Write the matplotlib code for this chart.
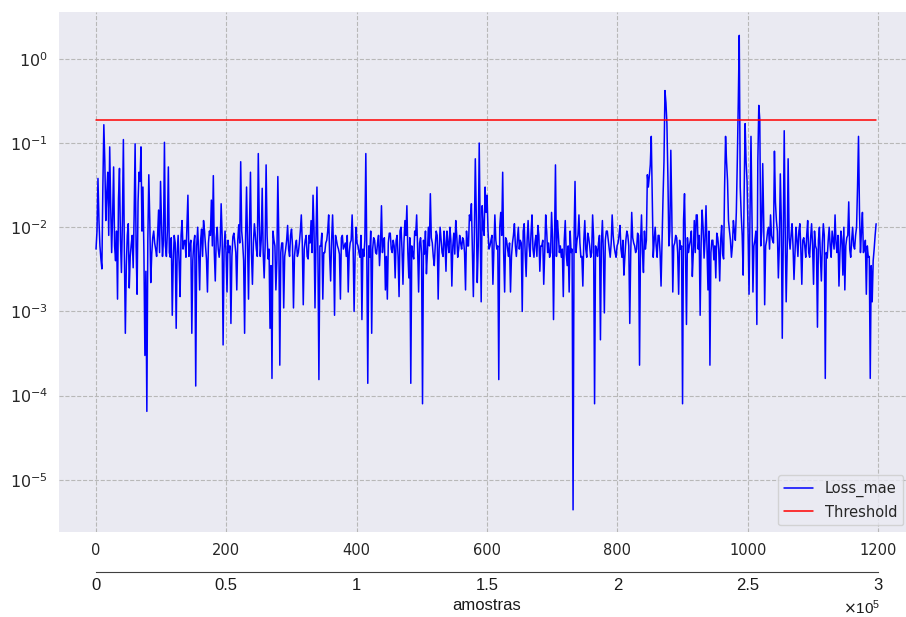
import numpy as np
import matplotlib
matplotlib.use("Agg")
import matplotlib.pyplot as plt
import seaborn as sns
from matplotlib.ticker import FuncFormatter, FixedLocator

# Reconstruction loss (MAE) per window, in units of 1e-3.
# loss_main_e3 holds every other window; loss_between_e3 the windows in between.
loss_main_e3 = [
    # 0 - 198
    5.5, 38, 6, 3.2, 165, 12, 45, 90, 5, 52, 4, 1.4, 50, 2.9, 110, 0.55, 8, 1.9, 6.2, 3.3,
    98, 1.6, 45, 90, 30, 0.3, 0.065, 42, 2.2, 7.5, 6.5, 4.5, 16, 35, 4.5, 102, 4.5, 52, 4.4, 0.9,
    8, 0.63, 8, 1.5, 12, 6.8, 4.4, 24, 6, 0.55, 6.5, 0.13, 10, 1.8, 9.5, 12, 6, 1.7, 9, 21,
    41, 2.3, 10, 4.4, 19, 0.4, 9,
    # 201 - 399
    1.7, 5, 0.72, 7.7, 6.5, 1.8, 10.7, 60, 6.5, 0.55, 30, 1.4, 45, 2.1, 11, 5.5, 75, 4.5, 29, 2.5,
    55, 4.2, 0.63, 0.16, 7, 1.8, 40, 0.23, 6.5, 1.1, 5.5, 10.5, 4.5, 9.5, 1.1, 6, 4.5, 6.5, 14, 1.2,
    7, 4.5, 8, 12, 24, 1.1, 30, 0.155, 6, 1.4, 5, 7, 14, 2.3, 14, 0.9, 7, 5.5, 1.4, 8,
    6, 4.5, 1.7, 6.5, 14, 1.0, 10,
    # 402 - 597
    6, 4.4, 0.8, 4.5, 75, 0.14, 4.4, 0.55, 7.5, 5, 6.5, 3.5, 18, 7, 1.8, 1.4, 8.5, 5.5, 7, 2.5,
    8, 1.5, 10, 2.1, 12, 18, 2.5, 0.14, 4.8, 9, 14, 1.7, 7.5, 0.08, 4.8, 2.8, 10, 25, 6.5, 3.5,
    9, 1.4, 10, 5, 9, 3, 6.5, 10, 2.0, 8.5, 12, 4.4, 8, 5.5, 7, 1.8, 6, 14, 19, 1.5,
    65, 2.2, 100, 1.3, 10, 30,
    # 600 - 798
    24, 5.5, 7, 2.1, 14, 5.5, 0.155, 15, 45, 1.7, 7, 4.5, 1.7, 6.5, 11, 4.5, 10, 7, 1.0, 11,
    2.6, 12, 4.5, 14, 4.4, 8, 10.5, 3, 6, 2.1, 14, 5, 4.4, 15, 0.8, 55, 12, 5, 4.4, 1.5,
    12, 3.5, 1.7, 5, 0.0044, 35, 7, 14, 4.4, 2.0, 12, 4.4, 7.5, 4.4, 14, 0.08, 5.5, 6.5, 0.46, 12,
    0.96, 9, 7, 4.4, 14, 6, 4.4,
    # 801 - 1005
    6.5, 10.5, 4.4, 2.7, 7, 8, 0.72, 15, 6.5, 5, 8.5, 0.23, 14, 2.9, 5.5, 42, 40, 120, 4.4, 10,
    4.4, 8, 2.0, 22, 420, 170, 6, 82, 1.7, 6.5, 7.5, 1.6, 5.5, 0.08, 25, 0.7, 5, 7, 2.6, 12,
    14, 5.5, 0.9, 16, 4.3, 18, 1.8, 0.23, 7, 4.1, 2.5, 7.5, 2.3, 10.5, 4.2, 120, 36, 9, 4.4, 12,
    7, 60, 1900, 14, 2.7, 170, 35, 1.6, 120,
    # 1008 - 1197
    1.7, 7, 0.7, 280, 6, 57, 1.2, 7, 10, 14, 7, 80, 12, 2.5, 43, 0.48, 140, 1.3, 65, 5.5,
    11, 2.4, 10, 4.5, 11, 2.1, 7.5, 4.4, 12, 4.4, 11, 2.1, 6, 0.65, 10, 2.3, 11, 0.16, 4.3, 10,
    4.4, 7, 14, 5, 2.0, 9, 2.7, 1.8, 7.5, 20, 4.4, 10, 5.5, 10, 120, 5, 15, 5.5, 1.6, 4.4,
    0.16, 1.3, 5.5, 11,
]
loss_between_e3 = [
    # 1.5 - 196.5
    9, 12, 4.2, 30, 60, 25, 8, 18, 14, 6, 9, 22, 7, 12, 5, 3.5, 11, 4.5, 8, 14,
    6, 20, 35, 9, 5, 3, 7, 12, 4.8, 9, 5.5, 8, 5, 11, 7, 6, 9, 5, 7.5, 4,
    6.5, 5, 3.8, 8, 5.5, 7, 10, 4.5, 7, 4, 8, 6, 5, 7, 4.5, 9, 4.2, 6.5, 8, 6,
    5, 7.5, 5.5, 6, 8, 5.5,
    # 199.5 - 397.5
    5, 7, 6, 4.5, 8.5, 5, 7, 6.5, 9, 4, 7.5, 6, 10, 5, 6.5, 8, 4.5, 12, 7, 5,
    6, 8, 5.5, 3.5, 9, 6, 4, 7.5, 5, 6.5, 4.5, 7, 5.5, 8, 6, 4.5, 7, 5, 9, 6.5,
    5.5, 8, 4.2, 6.5, 5, 9.5, 7, 4.8, 6, 8.5, 5, 6.5, 9, 4.5, 7, 5.5, 8, 6, 4.8, 7.5,
    5.5, 6.5, 8, 5, 7, 6, 4.5,
    # 400.5 - 595.5
    6.5, 5, 8, 5.5, 7, 4.5, 6, 9, 5.5, 7, 4.8, 8, 6, 5, 7.5, 4.5, 6.5, 8.5, 5, 6,
    7, 4.5, 9, 5.5, 6.5, 8, 5, 7.5, 6, 4.2, 8, 5.5, 6.5, 4.8, 7, 9, 5, 6, 7.5, 4.5,
    6, 8, 5.5, 7, 4.5, 6.5, 9, 5, 7, 6, 4.8, 8, 5.5, 6.5, 7.5, 5, 9, 6, 12, 5.5,
    8, 14, 6, 9, 18, 8,
    # 598.5 - 796.5
    15, 9, 6, 8, 5.5, 7, 6, 10, 8, 5, 7.5, 5.5, 6.5, 4.5, 8, 6, 7, 5.5, 6.5, 9,
    5, 7, 6, 8.5, 5.5, 6.5, 4.5, 8, 6, 7, 5, 9, 6.5, 5, 7.5, 6, 4.5, 8, 6, 5.5,
    7, 4.8, 6, 9, 5.5, 7, 5, 8, 6.5, 4.5, 7, 5.5, 8.5, 6, 5, 7.5, 6, 4.5, 8, 6.5,
    5, 7, 9, 5.5, 6.5, 8, 5,
    # 799.5 - 1003.5
    6, 8, 5.5, 7, 4.5, 9, 6, 5, 7.5, 6, 5.5, 8, 6.5, 5, 9, 7, 30, 55, 25, 7,
    6, 8, 5, 7, 60, 300, 40, 9, 15, 6, 8, 5, 7, 6, 12, 5.5, 7.5, 6, 9, 5,
    5, 14, 8, 6.5, 10, 7, 5.5, 9, 5, 7, 6, 8.5, 5.5, 7, 4.8, 30, 60, 12, 7, 6,
    9, 15, 300, 30, 8, 25, 60, 9, 15,
    # 1006.5 - 1195.5
    15, 6, 9, 60, 190, 9, 12, 6, 9, 5.5, 8, 6.5, 20, 9, 6, 12, 7, 9, 5, 7.5,
    8, 6, 5, 7, 9, 5.5, 7, 6, 8, 5, 7.5, 6, 9, 5.5, 7, 4.5, 6.5, 8, 5, 7,
    6, 9, 5.5, 6.5, 8, 5, 7, 10, 6, 8, 5.5, 7, 6, 8, 30, 15, 9, 5, 7, 6,
    4.5, 3.5, 4, 8,
]
window_step = 1.5         # spacing between consecutive windows on the x axis
threshold = 0.19          # anomaly threshold on the MAE
samples_per_window = 250  # raw samples per window unit (bottom axis)

x_ticks = [0, 200, 400, 600, 800, 1000, 1200]
sample_ticks = [0, 0.5e5, 1e5, 1.5e5, 2e5, 2.5e5, 3e5]
legend_labels = ["Loss_mae", "Threshold"]
bottom_label = "amostras"

loss_mae = np.empty(len(loss_main_e3) + len(loss_between_e3))
loss_mae[0::2] = loss_main_e3
loss_mae[1::2] = loss_between_e3
loss_mae *= 1e-3
x = np.arange(len(loss_mae)) * window_step

sns.set_style("darkgrid", {"grid.linestyle": "--", "grid.color": "0.72",
                           "axes.facecolor": "#EAEAF2"})
plt.rcParams["font.family"] = ["DejaVu Sans"]

W, H = 906, 617
fig = plt.figure(figsize=(W / 100, H / 100), dpi=100)

# main axes (pixel box: left 59, right 910, top 12, bottom 532)
ax = fig.add_axes([59 / W, 1 - 532 / H, (910 - 59) / W, (532 - 12) / H])
ax.plot(x, loss_mae, color="blue", lw=1.1, label=legend_labels[0])
ax.plot(x, np.full_like(x, threshold), color="red", lw=1.1, label=legend_labels[1])
ax.set_yscale("log")
ax.set_ylim(2.4e-6, 3.6)
ax.set_xlim(-56.8, 1249)
ax.set_xticks(x_ticks)
ax.yaxis.set_major_locator(FixedLocator([1e-5, 1e-4, 1e-3, 1e-2, 1e-1, 1e0]))
ax.yaxis.set_minor_locator(FixedLocator([]))
ax.grid(True, which="major", linestyle="--", color="0.72", linewidth=0.8)
ax.tick_params(axis="y", labelsize=11.5, colors="0.15", length=0, pad=8)
ax.tick_params(axis="x", labelsize=10.5, labelcolor="0.15", length=3, width=0.8,
               color="0.3", direction="out", pad=5)
for s in ax.spines.values():
    s.set_visible(False)
leg = ax.legend(loc="lower right", fontsize=10.5, frameon=True, borderaxespad=0.45,
                handlelength=2.0)
leg.get_frame().set_edgecolor("0.8")

# bottom axis in raw samples
bfont = "Liberation Sans"
ax2 = fig.add_axes([96 / W, 1 - 572 / H, (878 - 96) / W, 1e-5])
ax2.set_facecolor("none")
ax2.set_xlim(0, x_ticks[-1] * samples_per_window)
ax2.set_ylim(0, 1)
ax2.set_yticks([])
ax2.grid(False)
for side in ("left", "right", "top"):
    ax2.spines[side].set_visible(False)
ax2.spines["bottom"].set_color("0.25")
ax2.spines["bottom"].set_linewidth(0.8)
ax2.set_xticks(sample_ticks)
ax2.xaxis.set_major_formatter(FuncFormatter(lambda v, p: f"{v / 1e5:g}"))
ax2.tick_params(axis="x", direction="in", length=8, width=0.8, color="0.25",
                labelsize=12, labelcolor="0.1", pad=4)
for lbl in ax2.get_xticklabels():
    lbl.set_family(bfont)
ax2.set_xlabel(bottom_label, fontsize=12, family=bfont, color="0.1", labelpad=4)
fig.text(880 / W, 1 - 614 / H, r"$\times\mathregular{10^5}$", ha="right", va="baseline",
         fontsize=11, family=bfont, color="0.1")

fig.savefig("out.png", dpi=100)
